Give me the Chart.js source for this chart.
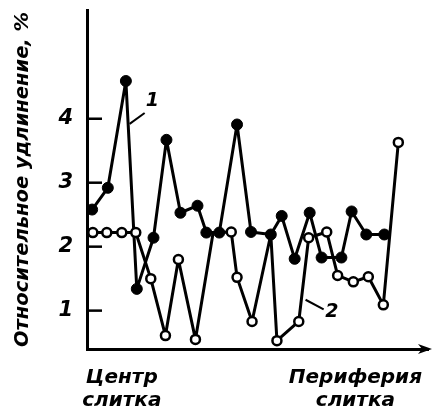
<!DOCTYPE html>
<html>
<head>
<meta charset="utf-8">
<script src="https://cdn.jsdelivr.net/npm/chart.js@4"></script>
<style>
  html, body { margin: 0; padding: 0; background: #fff; }
  #wrap { width: 436px; height: 411px; position: relative; }
</style>
</head>
<body>
<div id="wrap"><canvas id="chart"></canvas></div>
<script>
// --- data (x = position along the ingot, 0..100) ---
const series1X = [1.5, 6.1, 11.4, 14.6, 19.5, 23.3, 27.4, 32.4, 35.0, 38.8, 44.0, 48.1, 53.9, 57.1, 60.9, 65.3, 68.8, 74.6, 77.6, 81.9, 87.2];
const series1Y = [2.58, 2.92, 4.59, 1.34, 2.14, 3.67, 2.53, 2.64, 2.22, 2.22, 3.91, 2.23, 2.19, 2.48, 1.81, 2.53, 1.83, 1.83, 2.55, 2.19, 2.19];

const series2X = [1.7, 5.8, 10.2, 14.3, 18.7, 23.0, 26.8, 31.8, 37.0, 42.3, 44.0, 48.4, 53.9, 55.7, 62.1, 65.0, 70.3, 73.5, 78.1, 82.5, 86.9, 91.3];
const series2Y = [2.22, 2.22, 2.22, 2.22, 1.50, 0.61, 1.80, 0.55, 2.22, 2.23, 1.52, 0.83, 2.19, 0.53, 0.83, 2.14, 2.23, 1.55, 1.45, 1.53, 1.09, 3.63];
// vertices of curve 2 that sit under a black dot of curve 1
const series2Hidden = [8, 12];

const yTicks = [1, 2, 3, 4];
const xTickPos = [10.2, 78.7];
const xTickLabels = [['Центр', 'слитка'], ['Периферия', 'слитка']];

// curve labels: [text, labelX, labelY, leaderFromX, leaderFromY, leaderToX, leaderToY]
const curveLabels = [
    ['1', 19.2, 4.27, 12.5, 3.92, 16.9, 4.09],
    ['2', 71.8, 0.97, 64.1, 1.17, 69.4, 1.02]
];

const FONT = "'DejaVu Sans', sans-serif";
const toPoints = (xs, ys) => xs.map((x, i) => ({ x: x, y: ys[i] }));

// ticks pointing into the plot, arrow on x axis, curve labels
const decorPlugin = {
    id: 'decor',
    afterDraw(chart) {
        const { ctx, chartArea, scales } = chart;
        const xs = scales.x, ys = scales.y;
        ctx.save();
        ctx.strokeStyle = '#000';
        ctx.fillStyle = '#000';
        ctx.lineWidth = 2.5;

        yTicks.forEach(v => {
            const py = ys.getPixelForValue(v);
            ctx.beginPath();
            ctx.moveTo(chartArea.left, py);
            ctx.lineTo(chartArea.left + 15, py);
            ctx.stroke();
        });

        // arrow head
        const ax = chartArea.right + 4, ay = chartArea.bottom;
        ctx.beginPath();
        ctx.moveTo(ax, ay);
        ctx.lineTo(ax - 14, ay - 5);
        ctx.lineTo(ax - 10, ay);
        ctx.lineTo(ax - 14, ay + 5);
        ctx.closePath();
        ctx.fill();

        ctx.lineWidth = 2;
        ctx.font = 'italic bold 19px ' + FONT;
        ctx.textAlign = 'center';
        ctx.textBaseline = 'middle';
        curveLabels.forEach(l => {
            ctx.beginPath();
            ctx.moveTo(xs.getPixelForValue(l[3]), ys.getPixelForValue(l[4]));
            ctx.lineTo(xs.getPixelForValue(l[5]), ys.getPixelForValue(l[6]));
            ctx.stroke();
            ctx.fillText(l[0], xs.getPixelForValue(l[1]), ys.getPixelForValue(l[2]));
        });
        ctx.restore();
    }
};

new Chart(document.getElementById('chart'), {
    type: 'scatter',
    data: {
        datasets: [
            {
                label: '2',
                data: toPoints(series2X, series2Y),
                showLine: true,
                borderColor: '#000',
                borderWidth: 3,
                borderJoinStyle: 'round',
                pointBackgroundColor: '#fff',
                pointBorderColor: '#000',
                pointBorderWidth: 2.5,
                pointRadius: ctx => series2Hidden.includes(ctx.dataIndex) ? 0 : 4.5,
                order: 0
            },
            {
                label: '1',
                data: toPoints(series1X, series1Y),
                showLine: true,
                borderColor: '#000',
                borderWidth: 3,
                borderJoinStyle: 'round',
                pointBackgroundColor: '#000',
                pointBorderColor: '#000',
                pointBorderWidth: 1,
                pointRadius: 5.5,
                order: 1
            }
        ]
    },
    options: {
        responsive: true,
        maintainAspectRatio: false,
        animation: false,
        layout: { padding: { left: 11, right: 8, top: 10, bottom: -18 } },
        plugins: {
            legend: { display: false },
            tooltip: { enabled: false }
        },
        scales: {
            x: {
                type: 'linear',
                min: 0,
                max: 100,
                afterBuildTicks: s => { s.ticks = xTickPos.map(v => ({ value: v })); },
                afterFit: s => { s.paddingLeft = 0; s.paddingRight = 0; },
                grid: { display: false, drawTicks: false },
                border: { display: true, color: '#000', width: 3 },
                ticks: {
                    autoSkip: false,
                    maxRotation: 0,
                    padding: 17,
                    color: '#000',
                    font: { family: FONT, size: 20, style: 'italic', weight: 'bold', lineHeight: 1.15 },
                    callback: (v, i) => xTickLabels[i]
                }
            },
            y: {
                min: 0.4,
                max: 5.7,
                afterBuildTicks: s => { s.ticks = yTicks.map(v => ({ value: v })); },
                afterFit: s => { s.paddingTop = 0; s.paddingBottom = 0; },
                grid: { display: false, drawTicks: false },
                border: { display: true, color: '#000', width: 3 },
                ticks: {
                    padding: 14,
                    color: '#000',
                    font: { family: FONT, size: 21, style: 'italic', weight: 'bold' },
                    callback: v => String(v)
                },
                title: {
                    display: true,
                    text: 'Относительное удлинение, %',
                    color: '#000',
                    padding: { top: 0, bottom: 10 },
                    font: { family: FONT, size: 19.5, style: 'italic', weight: 'bold' }
                }
            }
        }
    },
    plugins: [decorPlugin]
});
</script>
</body>
</html>
